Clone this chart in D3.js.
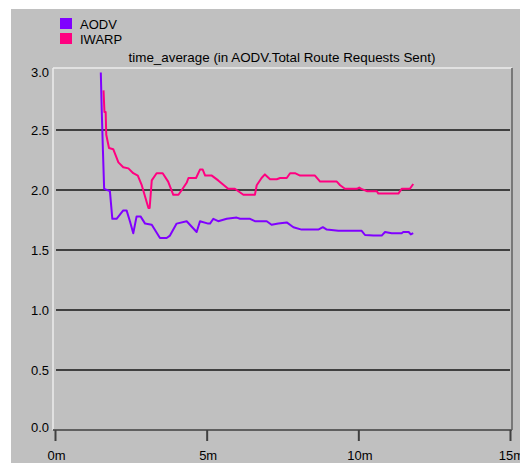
<!DOCTYPE html>
<html>
<head>
<meta charset="utf-8">
<script src="https://cdn.jsdelivr.net/npm/d3@7"></script>
<style>
  html, body { margin: 0; padding: 0; background: #ffffff; }
  svg { display: block; }
  text { font-family: "Liberation Sans", Arial, sans-serif; fill: #000; }
</style>
</head>
<body>
<svg id="chart" width="520" height="465"></svg>
<script>
// Series: simulation time (minutes) and time-averaged route requests
const seriesNames = ["AODV", "IWARP"];
const seriesColors = ["#8000ff", "#ff0080"];

const aodvTime = [1.51, 1.54, 1.58, 1.62, 1.81, 1.89, 2.03, 2.25, 2.36, 2.47, 2.58, 2.69, 2.82, 2.97, 3.19,
  3.46, 3.68, 3.79, 4.01, 4.34, 4.67, 4.78, 5.05, 5.11, 5.22, 5.38, 5.66, 5.99, 6.10, 6.43, 6.59, 6.98,
  7.14, 7.36, 7.64, 7.86, 8.13, 8.68, 8.83, 8.96, 9.34, 10.11, 10.22, 10.50, 10.77, 10.88, 11.10, 11.43,
  11.48, 11.66, 11.73, 11.81];
const aodvValue = [2.98, 2.67, 2.33, 2.01, 1.99, 1.76, 1.76, 1.83, 1.83, 1.74, 1.64, 1.78, 1.78, 1.72, 1.71,
  1.60, 1.60, 1.62, 1.72, 1.74, 1.65, 1.74, 1.72, 1.72, 1.76, 1.74, 1.76, 1.77, 1.76, 1.76, 1.74, 1.74,
  1.71, 1.72, 1.73, 1.69, 1.67, 1.67, 1.69, 1.67, 1.66, 1.66, 1.625, 1.62, 1.62, 1.65, 1.64, 1.64,
  1.65, 1.65, 1.63, 1.64];

const iwarpTime = [1.60, 1.63, 1.67, 1.69, 1.78, 1.92, 2.09, 2.25, 2.42, 2.58, 2.73, 2.86, 3.08, 3.12, 3.19,
  3.35, 3.55, 3.73, 3.90, 4.07, 4.18, 4.34, 4.40, 4.65, 4.78, 4.87, 4.95, 5.17, 5.38, 5.71, 5.93, 6.21,
  6.59, 6.65, 6.81, 6.92, 7.09, 7.31, 7.42, 7.64, 7.75, 7.91, 8.08, 8.57, 8.74, 9.29, 9.40, 9.56, 9.95,
  10.03, 10.10, 10.28, 10.61, 10.66, 11.32, 11.43, 11.70, 11.81];
const iwarpValue = [2.83, 2.65, 2.65, 2.46, 2.35, 2.34, 2.23, 2.19, 2.18, 2.14, 2.12, 2.04, 1.85, 1.85, 2.08,
  2.14, 2.14, 2.07, 1.96, 1.96, 2.00, 2.06, 2.10, 2.10, 2.17, 2.17, 2.12, 2.12, 2.08, 2.01, 2.01, 1.96,
  1.96, 2.04, 2.10, 2.13, 2.09, 2.09, 2.10, 2.10, 2.14, 2.14, 2.12, 2.12, 2.07, 2.07, 2.04, 2.01, 2.01,
  2.02, 2.01, 1.99, 1.99, 1.97, 1.97, 2.01, 2.01, 2.05];

const yTicks = [0, 0.5, 1.0, 1.5, 2.0, 2.5, 3.0];
const xTicks = [0, 5, 10, 15];
const xTickLabels = ["0m", "5m", "10m", "15m"];
const titleText = "time_average (in AODV.Total Route Requests Sent)";

const svg = d3.select("#chart");

// Panel background
svg.append("rect").attr("x", 11).attr("y", 9).attr("width", 509).attr("height", 454).attr("fill", "#c0c0c0");

const x = d3.scaleLinear().domain([0, 15]).range([55, 510]);
const y = d3.scaleLinear().domain([0, 3]).range([430, 70]);

// Plot frame (sunken look: light top/left, dark bottom/right)
const frameL = 53, frameR = 512, frameT = 68, frameB = 430;
svg.append("line").attr("x1", frameL).attr("x2", frameR).attr("y1", frameT).attr("y2", frameT)
  .attr("stroke", "#ececec").attr("stroke-width", 1.5);
svg.append("line").attr("x1", frameL).attr("x2", frameL).attr("y1", frameT).attr("y2", frameB)
  .attr("stroke", "#ececec").attr("stroke-width", 1.5);
svg.append("line").attr("x1", frameR).attr("x2", frameR).attr("y1", frameT).attr("y2", frameB)
  .attr("stroke", "#606060").attr("stroke-width", 1.5);

// Horizontal gridlines
svg.append("g").selectAll("line")
  .data(yTicks.filter(d => d > 0 && d < 3))
  .join("line")
  .attr("x1", x(0) + 1).attr("x2", x(15))
  .attr("y1", d => y(d)).attr("y2", d => y(d))
  .attr("stroke", "#404040").attr("stroke-width", 2);

// Y axis labels
svg.append("g").selectAll("text")
  .data(yTicks)
  .join("text")
  .attr("x", 49)
  .attr("y", d => Math.max(72.5, Math.min(427.5, y(d))))
  .attr("dy", "0.36em")
  .attr("text-anchor", "end")
  .attr("font-size", 13)
  .text(d => d.toFixed(1));

// X axis
const xAxis = d3.axisBottom(x)
  .tickValues(xTicks)
  .tickSize(11)
  .tickPadding(10)
  .tickFormat((d, i) => xTickLabels[i]);
const gx = svg.append("g").attr("transform", `translate(0,${frameB})`).call(xAxis);
gx.select(".domain").attr("d", `M${frameL},0H${frameR}`).attr("stroke", "#606060").attr("stroke-width", 2);
gx.selectAll(".tick line").attr("stroke", "#404040").attr("stroke-width", 2);
gx.selectAll(".tick text").attr("font-size", 13).attr("fill", "#000")
  .attr("font-family", "'Liberation Sans', Arial, sans-serif").attr("dx", 1);

// Title
svg.append("text").attr("x", 282).attr("y", 62).attr("text-anchor", "middle")
  .attr("font-size", 13.4).text(titleText);

// Series lines
const line = d3.line().x(d => x(d[0])).y(d => y(d[1]));
const series = [
  { name: seriesNames[1], color: seriesColors[1], pts: d3.zip(iwarpTime, iwarpValue) },
  { name: seriesNames[0], color: seriesColors[0], pts: d3.zip(aodvTime, aodvValue) }
];
svg.append("g").selectAll("path")
  .data(series)
  .join("path")
  .attr("d", d => line(d.pts))
  .attr("fill", "none")
  .attr("stroke", d => d.color)
  .attr("stroke-width", 2)
  .attr("stroke-linejoin", "round");

// Legend
const legend = svg.append("g").selectAll("g")
  .data(seriesNames)
  .join("g")
  .attr("transform", (d, i) => `translate(60,${18 + i * 15})`);
legend.append("rect").attr("width", 12).attr("height", 11).attr("fill", (d, i) => seriesColors[i]);
legend.append("text").attr("x", 20).attr("y", 10.5).attr("font-size", 13).text(d => d);
</script>
</body>
</html>
